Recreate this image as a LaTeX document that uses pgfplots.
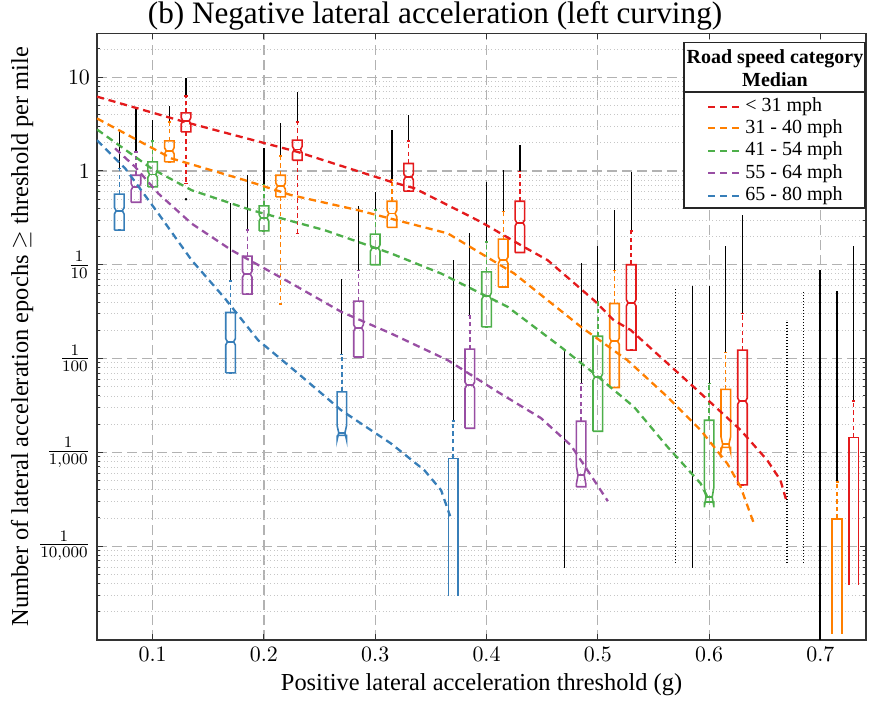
\documentclass[border=0pt]{standalone}
\usepackage{fontspec}
\setmainfont{Liberation Serif}
\usepackage{pgfplots}
\pgfplotsset{compat=1.18}
\definecolor{cR}{RGB}{228,26,28}
\definecolor{cO}{RGB}{255,127,0}
\definecolor{cG}{RGB}{77,175,74}
\definecolor{cP}{RGB}{152,78,163}
\definecolor{cB}{RGB}{55,126,184}
\tikzset{
 outl/.style={black, line width=0.6pt},
 outd/.style={black, line width=0.6pt, dash pattern=on 0.6pt off 0.9pt},
 whisk/.style={line width=0.7pt, dash pattern=on 2.2pt off 1.6pt},
 capl/.style={line width=0.7pt, solid},
 boxl/.style={line width=0.8pt, solid},
 medl/.style={line width=1.15pt, dash pattern=on 3.6pt off 2.4pt},
}
\newcommand\fmul[3]{\begingroup\pgfkeys{/pgf/fpu=true,/pgf/fpu/output format=sci}\pgfmathparse{#2*#3}\xdef#1{\pgfmathresult}\endgroup}
\newcommand\fdiv[3]{\begingroup\pgfkeys{/pgf/fpu=true,/pgf/fpu/output format=sci}\pgfmathparse{#2/#3}\xdef#1{\pgfmathresult}\endgroup}
% notched box: color, x, wlo, q1, med, q3, whi, omax, notch factor
\newcommand\nbox[9]{%
 \pgfmathsetmacro\xa{#2-0.0043}%
 \pgfmathsetmacro\xb{#2+0.0043}%
 \pgfmathsetmacro\xc{#2-0.0028}%
 \pgfmathsetmacro\xd{#2+0.0028}%
 \pgfmathsetmacro\xe{#2-0.0014}%
 \pgfmathsetmacro\xf{#2+0.0014}%
 \fmul\nhi{#5}{#9}\fdiv\nlo{#5}{#9}%
 \edef\tmp{%
  \noexpand\addplot[outl] coordinates {(#2,#7) (#2,#8)};
  \noexpand\addplot[#1,whisk] coordinates {(#2,#6) (#2,#7)};
  \noexpand\addplot[#1,capl] coordinates {(\xe,#7) (\xf,#7)};
  \noexpand\addplot[#1,whisk] coordinates {(#2,#4) (#2,#3)};
  \noexpand\addplot[#1,capl] coordinates {(\xe,#3) (\xf,#3)};
  \noexpand\addplot[#1,boxl] coordinates {(\xa,#4) (\xa,\nlo) (\xc,#5) (\xa,\nhi) (\xa,#6) (\xb,#6) (\xb,\nhi) (\xd,#5) (\xb,\nlo) (\xb,#4) (\xa,#4)};
  \noexpand\addplot[#1,boxl] coordinates {(\xc,#5) (\xd,#5)};
 }\tmp}
% open box: color, x, ybottom, q3, whi, omax
\newcommand\obox[6]{%
 \pgfmathsetmacro\xa{#2-0.0043}%
 \pgfmathsetmacro\xb{#2+0.0043}%
 \pgfmathsetmacro\xe{#2-0.0014}%
 \pgfmathsetmacro\xf{#2+0.0014}%
 \edef\tmp{%
  \noexpand\addplot[outl] coordinates {(#2,#5) (#2,#6)};
  \noexpand\addplot[#1,whisk] coordinates {(#2,#4) (#2,#5)};
  \noexpand\addplot[#1,capl] coordinates {(\xe,#5) (\xf,#5)};
  \noexpand\addplot[#1,boxl] coordinates {(\xa,#3) (\xa,#4) (\xb,#4) (\xb,#3)};
 }\tmp}
\begin{document}
\begin{tikzpicture}
\useasboundingbox (-48.5pt,-30.5pt) rectangle (386.5pt,320pt);
\begin{axis}[
 at={(0,0)}, anchor=south west, scale only axis,
 width=384.5pt, height=303.25pt,
 xmin=0.05, xmax=0.741, ymode=log, ymin=1e-5, ymax=29.2,
 xtick={0.1,0.2,0.3,0.4,0.5,0.6,0.7},
 xticklabels={$0.1$,$0.2$,$0.3$,$0.4$,$0.5$,$0.6$,$0.7$},
 ytick={1e-4,1e-3,1e-2,1e-1,1,10},
 yticklabels={$\frac{1}{10{,}000}$,$\frac{1}{1{,}000}$,$\frac{1}{100}$,$\frac{1}{10}$,$1$,$10$},
 minor ytick={2e-5,3e-5,4e-5,5e-5,6e-5,7e-5,8e-5,9e-5,2e-4,3e-4,4e-4,5e-4,6e-4,7e-4,8e-4,9e-4,2e-3,3e-3,4e-3,5e-3,6e-3,7e-3,8e-3,9e-3,0.02,0.03,0.04,0.05,0.06,0.07,0.08,0.09,0.2,0.3,0.4,0.5,0.6,0.7,0.8,0.9,2,3,4,5,6,7,8,9,20},
 grid=both,
 major grid style={gray!60, line width=0.6pt, dash pattern=on 5pt off 2.5pt},
 minor grid style={gray!45, line width=0.4pt, dash pattern=on 0.5pt off 1.2pt},
 tick align=inside,
 major tick length=3pt, minor tick length=1.7pt,
 axis line style={black!80, line width=0.6pt},
 every tick/.style={black!80, line width=0.5pt},
 tick label style={font=\fontsize{11}{12}\selectfont},
 xlabel={Positive lateral acceleration threshold (g)},
 ylabel={Number of lateral acceleration epochs $\geq$ threshold per mile},
 label style={font=\fontsize{12.2}{14}\selectfont},
 xlabel style={at={(axis description cs:0.5,-0.0742)}, anchor=center},
 ylabel style={at={(axis description cs:-0.0975,0.5)}, anchor=center},
]
% ---- blue 65-80 mph
\nbox{cB}{0.07}{0.234}{0.234}{0.376}{0.566}{1.07}{2.72}{1.08}
\nbox{cB}{0.17}{0.00705}{0.00705}{0.0151}{0.031}{0.0673}{0.454}{1.08}
\nbox{cB}{0.27}{0.00152}{0.00152}{0.00162}{0.00442}{0.011}{0.0703}{1.2}
\obox{cB}{0.37}{2.93e-5}{0.00086}{0.00217}{0.112}
\addplot[outl] coordinates {(0.47,5.9e-5) (0.47,0.0123)};
\addplot[outd] coordinates {(0.57,6.6e-5) (0.57,0.0564)};
\addplot[outd] coordinates {(0.67,6.6e-5) (0.67,0.0257)};
% ---- purple 55-64 mph
\nbox{cP}{0.085}{0.464}{0.464}{0.676}{0.90}{1.6}{4.8}{1.08}
\nbox{cP}{0.185}{0.0486}{0.0486}{0.0794}{0.1236}{0.234}{0.90}{1.08}
\nbox{cP}{0.285}{0.0104}{0.0104}{0.0212}{0.0409}{0.0875}{0.422}{1.08}
\nbox{cP}{0.385}{0.00181}{0.00181}{0.0052}{0.0126}{0.029}{0.217}{1.08}
\nbox{cP}{0.485}{0.00043}{0.00043}{0.00057}{0.00215}{0.00542}{0.104}{1.25}
\addplot[outl, line width=0.9pt] coordinates {(0.585,5.9e-5) (0.585,0.0591)};
\addplot[outd] coordinates {(0.685,6.6e-5) (0.685,0.0515)};
% ---- green 41-54 mph
\nbox{cG}{0.1}{0.676}{0.676}{0.92}{1.25}{2.08}{3.48}{1.08}
\nbox{cG}{0.2}{0.23}{0.23}{0.316}{0.4246}{0.718}{1.75}{1.08}
\nbox{cG}{0.3}{0.1}{0.1}{0.151}{0.212}{0.382}{0.594}{1.08}
\nbox{cG}{0.4}{0.0218}{0.0218}{0.0462}{0.084}{0.175}{0.76}{1.08}
\nbox{cG}{0.5}{0.00168}{0.00168}{0.00634}{0.0173}{0.0402}{0.158}{1.08}
\nbox{cG}{0.6}{0.000296}{0.000296}{0.000333}{0.0022}{0.00542}{0.0591}{1.28}
\addplot[outl, line width=0.9pt] coordinates {(0.7,1.0e-5) (0.7,0.0875)};
% ---- orange 31-40 mph
\nbox{cO}{0.115}{1.25}{1.25}{1.64}{2.09}{3.34}{4.9}{1.08}
\nbox{cO}{0.215}{0.038}{0.53}{0.689}{0.90}{1.44}{3.24}{1.08}
\nbox{cO}{0.315}{0.25}{0.25}{0.352}{0.476}{0.798}{2.72}{1.08}
\nbox{cO}{0.415}{0.058}{0.058}{0.112}{0.1875}{0.372}{1.02}{1.08}
\nbox{cO}{0.515}{0.00492}{0.00492}{0.0153}{0.0387}{0.0875}{0.382}{1.08}
\nbox{cO}{0.615}{0.00113}{0.00113}{0.00122}{0.00469}{0.0116}{0.158}{1.2}
\obox{cO}{0.715}{1.17e-5}{0.000196}{0.000482}{0.0524}
% ---- red < 31 mph
\nbox{cR}{0.13}{0.736}{2.61}{3.42}{4.16}{6.3}{9.8}{1.08}
\addplot[only marks, mark=*, mark size=0.4pt, black] coordinates {(0.13,0.5)};
\nbox{cR}{0.23}{0.216}{1.30}{1.69}{2.13}{3.34}{6.9}{1.08}
\nbox{cR}{0.33}{0.61}{0.61}{0.865}{1.2}{2.08}{3.94}{1.08}
\nbox{cR}{0.43}{0.135}{0.135}{0.28}{0.476}{0.9835}{1.88}{1.08}
\nbox{cR}{0.53}{0.0123}{0.0123}{0.0393}{0.1}{0.228}{0.97}{1.08}
\nbox{cR}{0.63}{0.000451}{0.000451}{0.00352}{0.0123}{0.0303}{0.338}{1.08}
\obox{cR}{0.73}{3.84e-5}{0.00144}{0.00354}{0.158}
% ---- median curves
\addplot[cR, medl] coordinates {(0.05,6.2) (0.1296,3.31) (0.23,1.6) (0.3143,0.766) (0.335,0.656) (0.395,0.286) (0.4336,0.155) (0.4549,0.112) (0.4964,0.042) (0.5143,0.0257) (0.5296,0.0201) (0.5625,0.00893) (0.5861,0.00499) (0.6283,0.00173) (0.6522,0.000826) (0.6641,0.000506) (0.6701,0.000287)};
\addplot[cO, medl] coordinates {(0.05,3.63) (0.117,1.36) (0.1828,0.798) (0.2247,0.552) (0.2845,0.382) (0.3652,0.216) (0.4249,0.0807) (0.4848,0.0218) (0.5266,0.00961) (0.5625,0.00391) (0.5924,0.00173) (0.6163,0.000762) (0.6283,0.000429) (0.6402,0.000175)};
\addplot[cG, medl] coordinates {(0.05,2.77) (0.0991,1.06) (0.135,0.624) (0.1888,0.382) (0.2545,0.234) (0.3143,0.132) (0.3592,0.0807) (0.419,0.0356) (0.4668,0.0133) (0.4967,0.00694) (0.5326,0.00305) (0.5625,0.00115) (0.5924,0.000466) (0.5984,0.000336)};
\addplot[cP, medl] coordinates {(0.0662,1.74) (0.0841,1.11) (0.1051,0.575) (0.135,0.275) (0.1709,0.143) (0.2247,0.0633) (0.2695,0.0315) (0.3143,0.0185) (0.3652,0.00961) (0.41,0.00442) (0.4489,0.00232) (0.4758,0.00119) (0.4937,0.000571) (0.509,0.000302)};
\addplot[cB, medl] coordinates {(0.05,2.13) (0.0752,1.07) (0.1051,0.352) (0.135,0.112) (0.1648,0.044) (0.1948,0.0157) (0.2307,0.00694) (0.2695,0.00281) (0.3143,0.00124) (0.3442,0.000645) (0.3592,0.000395) (0.3673,0.000209)};
\end{axis}
% title
\node[font=\fontsize{15.6}{18}\selectfont, anchor=base] at (169pt,308.25pt) {(b) Negative lateral acceleration (left curving)};
% legend
\draw[black!85, line width=0.6pt, fill=white] (293.5pt,216pt) rectangle (384pt,298.6pt);
\draw[black!85, line width=0.6pt] (293.5pt,274pt) -- (384pt,274pt);
\node[font=\bfseries\fontsize{10}{11.3}\selectfont, align=center] at (339pt,286pt) {Road speed category\\Median};
\foreach \c/\t/\y in {cR/{< 31 mph}/266.65, cO/{31 - 40 mph}/255.85, cG/{41 - 54 mph}/244.65, cP/{55 - 64 mph}/233.35, cB/{65 - 80 mph}/222}{
 \draw[\c, medl] (305.5pt,\y pt) -- (323pt,\y pt);
 \node[anchor=west, inner sep=0pt, font=\fontsize{10}{12}\selectfont] at (324pt,\y pt) {\t};
}
\end{tikzpicture}
\end{document}
